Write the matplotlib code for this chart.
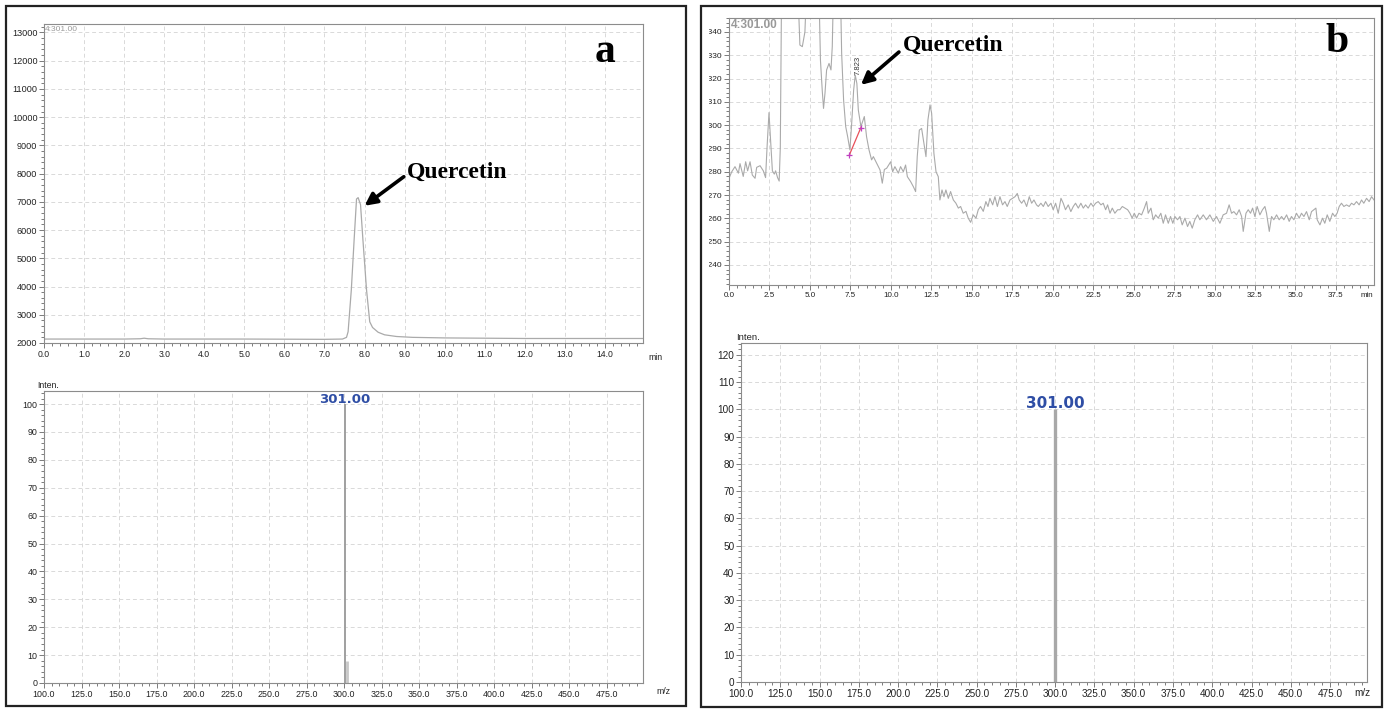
import numpy as np
import matplotlib
matplotlib.use("Agg")
import matplotlib.pyplot as plt
from matplotlib.patches import Rectangle
from matplotlib.ticker import MultipleLocator

plt.rcParams['font.family'] = ['Liberation Sans', 'DejaVu Sans']

# panel a: chromatogram (m/z 301.00) of the standard
a_time = [0.0, 2.0, 2.4, 2.5, 2.6, 3.0, 5.0, 7.0, 7.45, 7.55, 7.59, 7.67, 7.74, 7.80, 7.84,
          7.90, 7.96, 8.05, 8.13, 8.20, 8.34, 8.50, 8.80, 9.20, 10.0, 11.0, 12.0, 13.0, 14.95]
a_signal = [2140, 2140, 2150, 2170, 2150, 2140, 2140, 2130, 2140, 2200, 2400, 3880, 5650, 7100,
            7150, 6900, 5650, 3880, 2750, 2550, 2380, 2290, 2230, 2200, 2180, 2170, 2160, 2160,
            2160]

# panel a: mass spectrum
a_mz = [300.4, 301.8]
a_inten = [100, 8]

# panel b: chromatogram (m/z 301.00) of the sample
b_time = [0.0, 0.17, 0.37, 0.58, 0.68, 0.88, 1.03, 1.15, 1.30, 1.44, 1.61, 1.71, 1.92, 2.12,
          2.26, 2.35, 2.47, 2.57, 2.68, 2.80, 2.88, 3.00, 3.10, 3.17, 3.25, 3.40, 4.25, 4.32,
          4.38, 4.53, 4.69, 4.80, 5.00, 5.55, 5.65, 5.76, 5.84, 5.93, 6.03, 6.18, 6.30, 6.38,
          6.46, 6.60, 6.88, 6.96, 7.08, 7.21, 7.33, 7.47, 7.58, 7.70, 7.80, 7.90, 7.99, 8.15,
          8.36, 8.50, 8.65, 8.81, 8.92, 9.12, 9.33, 9.47, 9.60, 9.74, 9.99, 10.11, 10.25, 10.46,
          10.60, 10.77, 10.91, 11.02, 11.22, 11.39, 11.53, 11.63, 11.76, 11.90, 12.04, 12.17,
          12.29, 12.42, 12.52, 12.66, 12.79, 12.93, 13.03, 13.16, 13.28, 13.40, 13.55, 13.69,
          13.86, 14.02, 14.17, 14.31, 14.47, 14.64, 14.78, 14.93, 15.09, 15.26, 15.40, 15.54,
          15.71, 15.87, 16.00, 16.12, 16.29, 16.43, 16.58, 16.74, 16.90, 17.05, 17.19, 17.36,
          17.52, 17.67, 17.81, 17.93, 18.08, 18.22, 18.39, 18.55, 18.70, 18.84, 19.00, 19.11,
          19.27, 19.42, 19.56, 19.72, 19.89, 20.03, 20.18, 20.34, 20.51, 20.65, 20.79, 20.96,
          21.12, 21.27, 21.41, 21.58, 21.74, 21.89, 22.03, 22.19, 22.36, 22.50, 22.65, 22.81,
          22.98, 23.12, 23.27, 23.39, 23.54, 23.68, 23.84, 24.01, 24.15, 24.30, 24.46, 24.63,
          24.77, 24.91, 25.04, 25.18, 25.33, 25.49, 25.66, 25.80, 25.90, 26.07, 26.21, 26.36,
          26.52, 26.68, 26.83, 26.97, 27.14, 27.28, 27.42, 27.55, 27.71, 27.86, 28.00, 28.17,
          28.33, 28.47, 28.62, 28.78, 28.95, 29.09, 29.30, 29.50, 29.71, 29.92, 30.12, 30.33,
          30.53, 30.74, 30.90, 31.05, 31.19, 31.36, 31.52, 31.67, 31.77, 31.94, 32.08, 32.22,
          32.35, 32.49, 32.63, 32.80, 32.96, 33.11, 33.21, 33.38, 33.52, 33.66, 33.83, 33.99,
          34.14, 34.28, 34.45, 34.61, 34.75, 34.90, 35.06, 35.23, 35.37, 35.52, 35.68, 35.85,
          35.99, 36.14, 36.26, 36.34, 36.51, 36.67, 36.81, 36.96, 37.12, 37.29, 37.43, 37.57,
          37.70, 37.84, 37.99, 38.15, 38.32, 38.46, 38.61, 38.77, 38.93, 39.08, 39.22, 39.39,
          39.55, 39.70, 39.85]
b_signal = [277.2, 280.0, 282.2, 279.4, 283.5, 278.0, 284.3, 280.4, 284.3, 278.6, 277.2, 281.9,
            282.6, 280.4, 277.5, 290.4, 305.4, 293.2, 280.4, 279.0, 280.4, 277.5, 276.0, 290.4,
            360.0, 380.0, 370.0, 346.0, 334.4, 333.7, 340.0, 360.0, 380.0, 360.0, 327.9, 315.0,
            307.2, 313.7, 323.7, 326.5, 323.7, 333.7, 360.0, 380.0, 360.0, 330.8, 310.8, 299.4,
            295.1, 289.4, 300.8, 315.0, 321.5, 317.9, 306.5, 299.4, 303.7, 295.0, 289.4, 285.1,
            286.5, 283.7, 280.8, 275.1, 281.0, 281.5, 284.3, 280.0, 282.2, 279.4, 282.2, 280.0,
            282.9, 277.9, 275.8, 273.6, 271.5, 286.5, 297.9, 298.6, 292.2, 286.5, 302.2, 308.7,
            305.1, 287.9, 280.0, 277.9, 267.9, 272.2, 269.3, 272.2, 268.6, 271.5, 267.9, 266.5,
            264.4, 265.1, 262.2, 263.0, 260.1, 258.3, 261.5, 260.1, 263.7, 265.1, 263.0, 267.2,
            265.1, 268.6, 265.8, 269.3, 265.1, 269.3, 265.8, 267.2, 265.1, 267.9, 268.6, 269.3,
            270.7, 267.9, 266.5, 267.9, 265.1, 269.3, 266.5, 267.9, 265.8, 265.1, 266.5, 265.1,
            267.2, 265.1, 266.5, 263.7, 266.5, 262.2, 268.6, 266.5, 263.7, 265.8, 262.9, 265.1,
            266.5, 264.4, 266.5, 264.4, 265.8, 264.4, 266.5, 265.1, 266.5, 267.2, 265.8, 266.5,
            263.7, 265.8, 262.2, 264.4, 262.2, 263.7, 263.7, 265.1, 264.4, 263.7, 262.2, 260.1,
            262.2, 260.1, 262.2, 261.5, 264.4, 267.2, 262.2, 264.4, 259.4, 261.5, 260.1, 262.2,
            257.9, 261.5, 257.9, 260.8, 257.9, 260.8, 259.4, 260.8, 257.2, 260.1, 256.5, 258.7,
            255.8, 259.4, 261.5, 259.4, 261.5, 259.4, 261.5, 258.7, 260.8, 257.9, 261.5, 262.2,
            265.8, 262.2, 262.9, 261.5, 263.7, 260.8, 254.4, 262.2, 263.7, 262.2, 264.4, 260.8,
            265.1, 261.5, 263.7, 265.1, 262.2, 254.4, 260.8, 259.4, 261.5, 259.4, 260.8, 259.4,
            261.5, 258.7, 260.8, 259.4, 262.2, 260.1, 262.2, 260.8, 262.9, 259.4, 262.9, 263.7,
            264.4, 259.4, 257.2, 260.1, 257.9, 261.5, 258.7, 262.2, 260.8, 262.2, 265.1, 266.5,
            265.1, 265.8, 265.1, 266.5, 265.8, 267.2, 265.8, 267.9, 266.5, 268.6, 267.2, 269.3,
            267.9]
b_base_time = [7.43, 8.15]
b_base_signal = [287.1, 299.0]
b_peak_label = "7.823"

# panel b: mass spectrum
b_mz = [300.0]
b_inten = [100]

W, H = 1390, 711
fig = plt.figure(figsize=(W / 100, H / 100), dpi=100)


def box(l, t, r, b):
    return [l / W, 1 - b / H, (r - l) / W, (b - t) / H]


def ftext(x, y, s, **kw):
    fig.text(x / W, 1 - y / H, s, **kw)


def style(ax, fs):
    for s in ax.spines.values():
        s.set_color('#8c8c8c')
        s.set_linewidth(0.8)
    ax.tick_params(which='both', direction='out', color='#666666', labelcolor='#222222',
                   labelsize=fs, width=0.6, pad=1.2)
    ax.tick_params(which='major', length=3.5)
    ax.tick_params(which='minor', length=2)
    ax.grid(True, which='major', color='#d9d9d9', linestyle=(0, (4, 3)), linewidth=0.7)
    ax.set_axisbelow(True)


trace = '#aaaaaa'

# ---- panel a, chromatogram
ax1 = fig.add_axes(box(44, 24, 643, 343))
ax1.plot(a_time, a_signal, color=trace, lw=0.9)
ax1.set_xlim(0, 14.95)
ax1.set_ylim(2000, 13300)
ax1.set_xticks(np.arange(0, 15, 1.0))
ax1.set_xticklabels(['%.1f' % v for v in np.arange(0, 15, 1.0)])
ax1.set_yticks(np.arange(2000, 13001, 1000))
ax1.xaxis.set_minor_locator(MultipleLocator(0.2))
ax1.yaxis.set_minor_locator(MultipleLocator(200))
style(ax1, 6.6)
ax1.tick_params(axis='x', labelsize=6.2)
ax1.text(0.002, 0.995, '4:301.00', transform=ax1.transAxes, fontsize=6, color='#999999',
         va='top', ha='left')
ax1.annotate('', xy=(8.0, 6860), xytext=(8.98, 7890),
             arrowprops=dict(arrowstyle='-|>', color='black', lw=2.6, mutation_scale=18,
                             shrinkA=0, shrinkB=0))
ax1.text(9.05, 8060, 'Quercetin', family='Liberation Serif', fontweight='bold', fontsize=17,
         va='center', ha='left')
ftext(655, 357, 'min', fontsize=6.3, ha='center', va='center', color='#222222')

# ---- panel a, spectrum
ax2 = fig.add_axes(box(44, 391, 643, 683))
ax2.vlines(a_mz, 0, a_inten, color=['#a0a0a0', '#c8c8c8'], lw=[1.4, 2.0])
ax2.set_xlim(100, 499)
ax2.set_ylim(0, 104.7)
ax2.set_xticks(np.arange(100, 476, 25))
ax2.set_xticklabels(['%.1f' % v for v in np.arange(100, 476, 25)])
ax2.set_yticks(np.arange(0, 101, 10))
ax2.xaxis.set_minor_locator(MultipleLocator(5))
ax2.yaxis.set_minor_locator(MultipleLocator(2))
style(ax2, 6.4)
ax2.text(a_mz[0], 101.7, '301.00', family='DejaVu Sans', color='#2f4ea5', fontweight='bold',
         fontsize=9.5, ha='center', va='center')
ftext(48, 386, 'Inten.', fontsize=6.3, ha='center', va='center', color='#222222')
ftext(663, 692, 'm/z', fontsize=6.3, ha='center', va='center', color='#222222')

# ---- panel b, chromatogram
ax3 = fig.add_axes(box(729, 18, 1374, 285))
ax3.plot(b_time, b_signal, color=trace, lw=0.8)
ax3.plot(b_base_time, b_base_signal, color='#e8505a', lw=0.9)
ax3.plot(b_base_time, b_base_signal, ls='none', marker='+', color='#c040c0', ms=4, mew=0.9)
ax3.text(7.97, 325.8, b_peak_label, rotation=90, fontsize=5.5, color='#333333',
         ha='center', va='center')
ax3.set_xlim(0, 39.85)
ax3.set_ylim(231.4, 346)
ax3.set_xticks(np.arange(0, 38, 2.5))
ax3.set_xticklabels(['%.1f' % v for v in np.arange(0, 38, 2.5)])
ax3.set_yticks(np.arange(240, 341, 10))
ax3.set_yticklabels(['2%d' % v for v in np.arange(240, 341, 10)])
ax3.xaxis.set_minor_locator(MultipleLocator(0.5))
ax3.yaxis.set_minor_locator(MultipleLocator(2))
style(ax3, 6.0)
ax3.tick_params(axis='x', labelsize=5.8)
ax3.text(0.003, 0.995, '4:301.00', transform=ax3.transAxes, fontsize=8.5, color='#999999',
         fontweight='bold', va='top', ha='left')
ax3.annotate('', xy=(8.15, 317.3), xytext=(10.5, 331.4),
             arrowprops=dict(arrowstyle='-|>', color='black', lw=2.6, mutation_scale=18,
                             shrinkA=0, shrinkB=0))
ax3.text(10.75, 334.4, 'Quercetin', family='Liberation Serif', fontweight='bold', fontsize=17,
         va='center', ha='left')
ftext(1367, 296, 'min', fontsize=5.8, ha='center', va='center', color='#222222')

# ---- panel b, spectrum
ax4 = fig.add_axes(box(741, 343, 1367, 682))
ax4.vlines(b_mz, 0, b_inten, color='#a8a8a8', lw=2.4)
ax4.set_xlim(100, 498.5)
ax4.set_ylim(0, 124.3)
ax4.set_xticks(np.arange(100, 476, 25))
ax4.set_xticklabels(['%.1f' % v for v in np.arange(100, 476, 25)])
ax4.set_yticks(np.arange(0, 121, 10))
ax4.xaxis.set_minor_locator(MultipleLocator(5))
ax4.yaxis.set_minor_locator(MultipleLocator(2))
style(ax4, 7.2)
ax4.text(b_mz[0], 102.2, '301.00', family='DejaVu Sans', color='#2f4ea5', fontweight='bold',
         fontsize=11, ha='center', va='center')
ftext(748, 338, 'Inten.', fontsize=6.8, ha='center', va='center', color='#222222')
ftext(1362, 693, 'm/z', fontsize=7.2, ha='center', va='center', color='#222222')

# panel letters
ftext(605, 52, 'a', family='Liberation Serif', fontweight='bold', fontsize=30,
      ha='center', va='center')
ftext(1337, 42, 'b', family='Liberation Serif', fontweight='bold', fontsize=30,
      ha='center', va='center')

# the cropped left edge of panel b's labels
fig.add_artist(Rectangle((689 / W, 1 - 300 / H), 20 / W, 300 / H, transform=fig.transFigure,
                         facecolor='white', edgecolor='none', zorder=5))

# panel frames
for l, t, r, b in [(6, 6, 686, 706), (701, 6, 1382, 707)]:
    fig.add_artist(Rectangle((l / W, 1 - b / H), (r - l) / W, (b - t) / H,
                             transform=fig.transFigure, facecolor='none',
                             edgecolor='#222222', lw=1.6, zorder=6))

fig.savefig('out.png', dpi=100)
